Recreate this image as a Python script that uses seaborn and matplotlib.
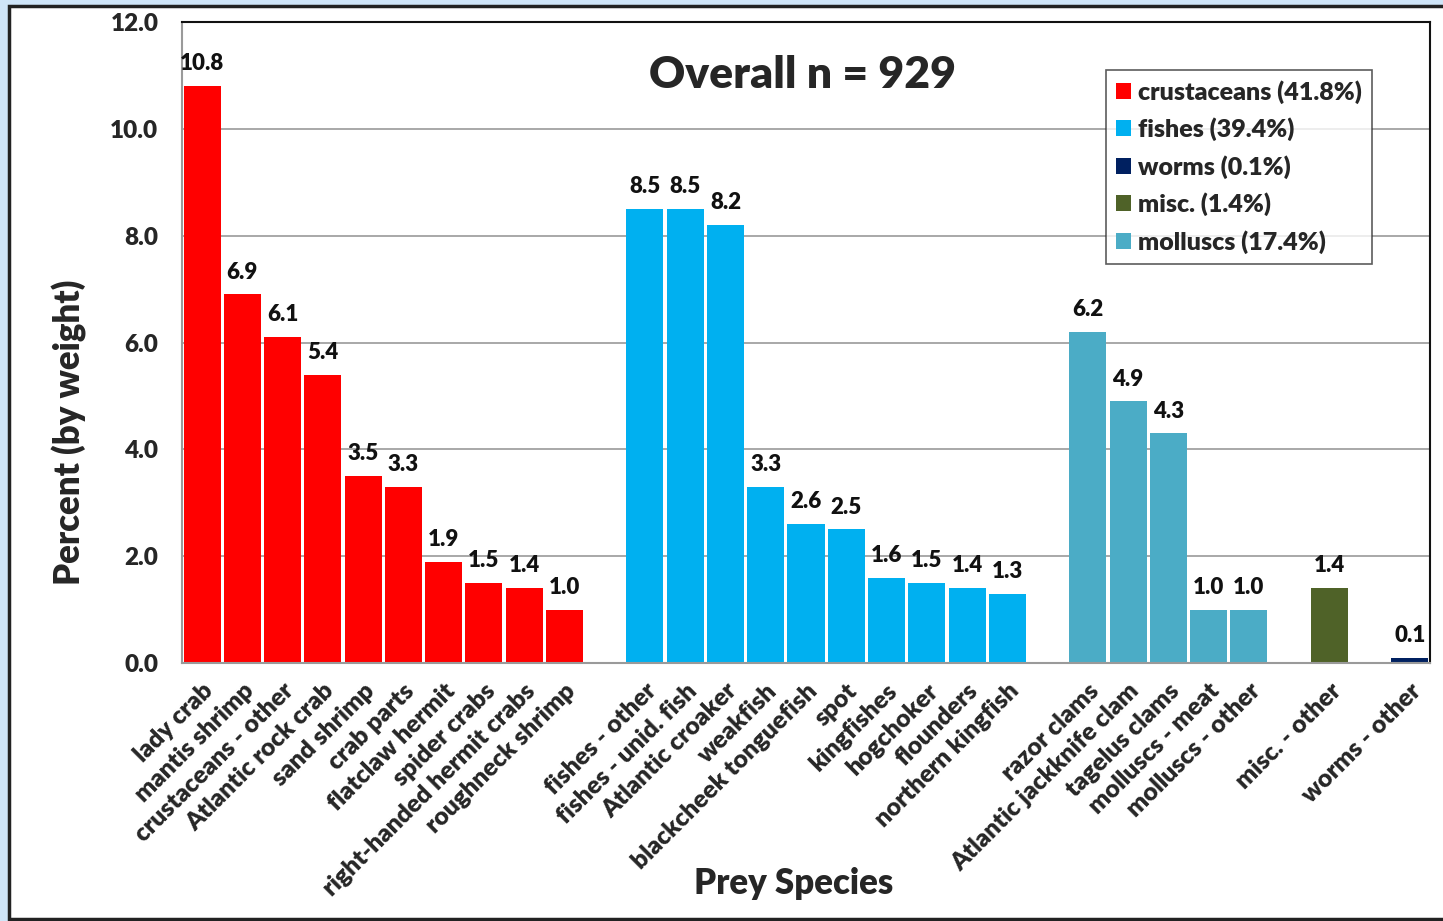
import matplotlib
matplotlib.use('Agg')
import matplotlib.pyplot as plt
import seaborn as sns
import pandas as pd
from matplotlib.patches import Rectangle

# data
crustaceans = ['lady crab', 'mantis shrimp', 'crustaceans - other', 'Atlantic rock crab',
               'sand shrimp', 'crab parts', 'flatclaw hermit', 'spider crabs',
               'right-handed hermit crabs', 'roughneck shrimp']
crustacean_vals = [10.8, 6.9, 6.1, 5.4, 3.5, 3.3, 1.9, 1.5, 1.4, 1.0]

fishes = ['fishes - other', 'fishes - unid. fish', 'Atlantic croaker', 'weakfish',
          'blackcheek tonguefish', 'spot', 'kingfishes', 'hogchoker', 'flounders',
          'northern kingfish']
fish_vals = [8.5, 8.5, 8.2, 3.3, 2.6, 2.5, 1.6, 1.5, 1.4, 1.3]

molluscs = ['razor clams', 'Atlantic jackknife clam', 'tagelus clams', 'molluscs - meat',
            'molluscs - other']
mollusc_vals = [6.2, 4.9, 4.3, 1.0, 1.0]

misc = ['misc. - other']
misc_vals = [1.4]

worms = ['worms - other']
worm_vals = [0.1]

legend_labels = {'crustaceans': 'crustaceans (41.8%)', 'fishes': 'fishes (39.4%)',
                 'worms': 'worms (0.1%)', 'misc.': 'misc. (1.4%)',
                 'molluscs': 'molluscs (17.4%)'}
colors = {'crustaceans': '#FF0000', 'fishes': '#00B0F0', 'worms': '#002060',
          'misc.': '#4F6228', 'molluscs': '#4BACC6'}

# build table
groups = [('crustaceans', crustaceans, crustacean_vals),
          ('fishes', fishes, fish_vals),
          ('molluscs', molluscs, mollusc_vals),
          ('misc.', misc, misc_vals),
          ('worms', worms, worm_vals)]
rows = []
order = []
for i, (grp, names, vals) in enumerate(groups):
    for n, v in zip(names, vals):
        rows.append({'species': n, 'pct': v, 'group': grp})
        order.append(n)
    if i < len(groups) - 1:
        order.append(' ' * (i + 1))  # empty slot between groups
df = pd.DataFrame(rows)

sns.set_style('white')
plt.rcParams['font.family'] = ['Lato', 'DejaVu Sans']

fig = plt.figure(figsize=(14.43, 9.21), dpi=100, facecolor='#cfe5f8')
frame = Rectangle((0.0065, 0.002), 1.0, 0.992, transform=fig.transFigure,
                  facecolor='white', edgecolor='#222222', linewidth=2.5, zorder=-10)
fig.add_artist(frame)
ax = fig.add_axes([0.1261, 0.2801, 0.8649, 0.6960])

sns.barplot(data=df, x='species', y='pct', hue='group', order=order,
            hue_order=['crustaceans', 'fishes', 'worms', 'misc.', 'molluscs'],
            palette=colors, dodge=False, width=0.92, saturation=1,
            edgecolor='none', ax=ax)

for _, r in df.iterrows():
    ax.text(order.index(r['species']), r['pct'] + 0.22, f"{r['pct']:.1f}",
            ha='center', va='bottom', fontsize=16, fontweight='heavy', color='#111111')

ax.set_xlim(-0.5, len(order) - 0.5)
ax.set_ylim(0, 12)
ax.set_yticks([0, 2, 4, 6, 8, 10, 12])
ax.set_yticklabels([f'{t:.1f}' for t in [0, 2, 4, 6, 8, 10, 12]],
                   fontsize=17.5, fontweight='heavy')
ax.yaxis.grid(True, color='#9a9a9a', linewidth=1.2)
ax.set_axisbelow(True)
ax.tick_params(axis='y', length=0, pad=17)
ax.tick_params(axis='x', length=0, pad=12)
ax.set_xticks(range(len(order)))
ax.set_xticklabels(order, rotation=45, ha='right', rotation_mode='anchor',
                   fontsize=17.8, fontweight='heavy')

for side in ['left', 'bottom']:
    ax.spines[side].set_color('#9a9a9a')
    ax.spines[side].set_linewidth(1.5)
for side in ['top', 'right']:
    ax.spines[side].set_color('#111111')
    ax.spines[side].set_linewidth(1.5)

ax.set_ylabel('Percent (by weight)', fontsize=25, fontweight='heavy')
ax.yaxis.set_label_coords(-0.076, 0.36)
ax.set_xlabel('Prey Species', fontsize=25, fontweight='heavy')
ax.xaxis.set_label_coords(0.49, -0.318)

ax.text(0.497, 0.918, 'Overall n = 929', transform=ax.transAxes, ha='center', va='center',
        fontsize=32, fontweight='heavy')

handles, labels = ax.get_legend_handles_labels()
ax.legend(handles, [legend_labels[l] for l in labels], loc='upper right',
          bbox_to_anchor=(0.9535, 0.925), frameon=True, fancybox=False,
          edgecolor='#333333', prop={'weight': 'heavy', 'size': 18},
          handlelength=0.6, handleheight=0.6, handletextpad=0.3, labelspacing=0.55,
          borderpad=0.4, borderaxespad=0)
ax.get_legend().get_frame().set_linewidth(1.2)

fig.savefig('out.png', dpi=100, facecolor=fig.get_facecolor())
